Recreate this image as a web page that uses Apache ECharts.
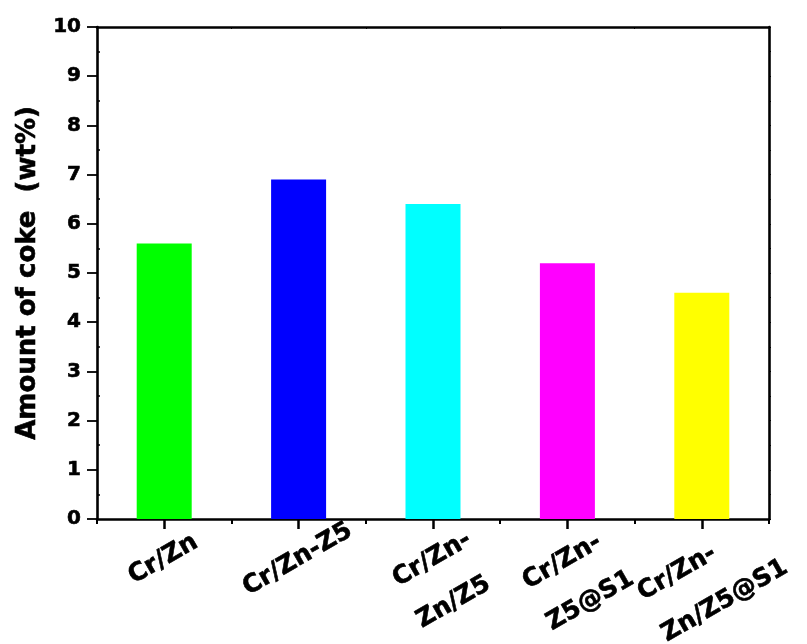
<!DOCTYPE html>
<html>
<head>
<meta charset="utf-8">
<script src="https://cdn.jsdelivr.net/npm/echarts@6/dist/echarts.min.js"></script>
<style>
  html, body { margin: 0; padding: 0; background: #fff; }
  #chart { width: 807px; height: 644px; }
</style>
</head>
<body>
<div id="chart"></div>
<script>
// Catalyst samples and their coke content (wt%)
const categories = ['Cr/Zn', 'Cr/Zn-Z5', 'Cr/Zn-\nZn/Z5', 'Cr/Zn-\nZ5@S1', 'Cr/Zn-\nZn/Z5@S1'];
const cokeAmount = [5.6, 6.9, 6.4, 5.2, 4.6];
const barColors = ['#00ff00', '#0000ff', '#00ffff', '#ff00ff', '#ffff00'];
const yTicks = [0, 1, 2, 3, 4, 5, 6, 7, 8, 9, 10];
const yTitle = 'Amount of coke  (wt%)';

const FONT = 'DejaVu Sans';
const frameLine = { show: true, lineStyle: { color: '#000', width: 2.6 } };
// slightly heavier glyphs for the axis texts
const heavy = { textBorderColor: '#000', textBorderWidth: 0.6 };

const chart = echarts.init(document.getElementById('chart'), null, { renderer: 'canvas' });

chart.setOption({
  animation: false,
  backgroundColor: '#fff',
  grid: { left: 97, right: 38, top: 27, bottom: 125, outerBoundsMode: 'none' },
  xAxis: [
    {
      // main category axis: labels and centred ticks
      type: 'category',
      data: categories,
      position: 'bottom',
      axisLine: frameLine,
      axisTick: { show: true, alignWithLabel: true, length: 10, lineStyle: { color: '#000', width: 2.5 } },
      axisLabel: Object.assign({
        interval: 0,
        rotate: 30,
        align: 'center',
        verticalAlign: 'top',
        margin: 12,
        padding: [0, 30, 0, 0],
        lineHeight: 48,
        color: '#000',
        fontFamily: FONT,
        fontWeight: 'bold',
        fontSize: 25,
        formatter: (v) => v.split('\n').map((s) => '{l|' + s + '}').join('\n'),
        rich: {
          l: Object.assign({ width: '100%', align: 'left', lineHeight: 48, color: '#000', fontFamily: FONT, fontWeight: 'bold', fontSize: 25 }, heavy)
        }
      }, heavy),
      splitLine: { show: false }
    },
    {
      // short ticks between categories
      type: 'category',
      data: categories,
      position: 'bottom',
      axisLine: { show: false },
      axisTick: { show: true, alignWithLabel: false, length: 5, lineStyle: { color: '#000', width: 2 } },
      axisLabel: { show: false },
      splitLine: { show: false }
    },
    {
      // top frame edge
      type: 'category',
      data: categories,
      position: 'top',
      axisLine: frameLine,
      axisTick: { show: true, inside: true, length: 2, lineStyle: { color: '#000', width: 1 } },
      axisLabel: { show: false },
      splitLine: { show: false }
    }
  ],
  yAxis: [
    {
      type: 'value',
      min: yTicks[0],
      max: yTicks[yTicks.length - 1],
      interval: yTicks[1] - yTicks[0],
      position: 'left',
      name: yTitle,
      nameLocation: 'middle',
      nameGap: 50,
      nameTextStyle: Object.assign({ color: '#000', fontFamily: FONT, fontWeight: 'bold', fontSize: 26 }, heavy),
      axisLine: frameLine,
      axisTick: { show: true, length: 10, lineStyle: { color: '#000', width: 1.8 } },
      minorTick: { show: true, splitNumber: 2, length: -3, lineStyle: { color: '#000', width: 1.5 } },
      axisLabel: Object.assign({ margin: 16, color: '#000', fontFamily: FONT, fontWeight: 'bold', fontSize: 20 }, heavy),
      splitLine: { show: false }
    },
    {
      // right frame edge
      type: 'value',
      min: yTicks[0],
      max: yTicks[yTicks.length - 1],
      interval: yTicks[1] - yTicks[0],
      position: 'right',
      axisLine: frameLine,
      axisTick: { show: true, length: 2, lineStyle: { color: '#000', width: 1 } },
      minorTick: { show: true, splitNumber: 2, length: 2, lineStyle: { color: '#000', width: 1 } },
      axisLabel: { show: false },
      splitLine: { show: false }
    }
  ],
  series: [
    {
      type: 'bar',
      xAxisIndex: 0,
      yAxisIndex: 0,
      data: cokeAmount,
      barWidth: 55,
      itemStyle: { color: (p) => barColors[p.dataIndex] }
    }
  ]
});
</script>
</body>
</html>
